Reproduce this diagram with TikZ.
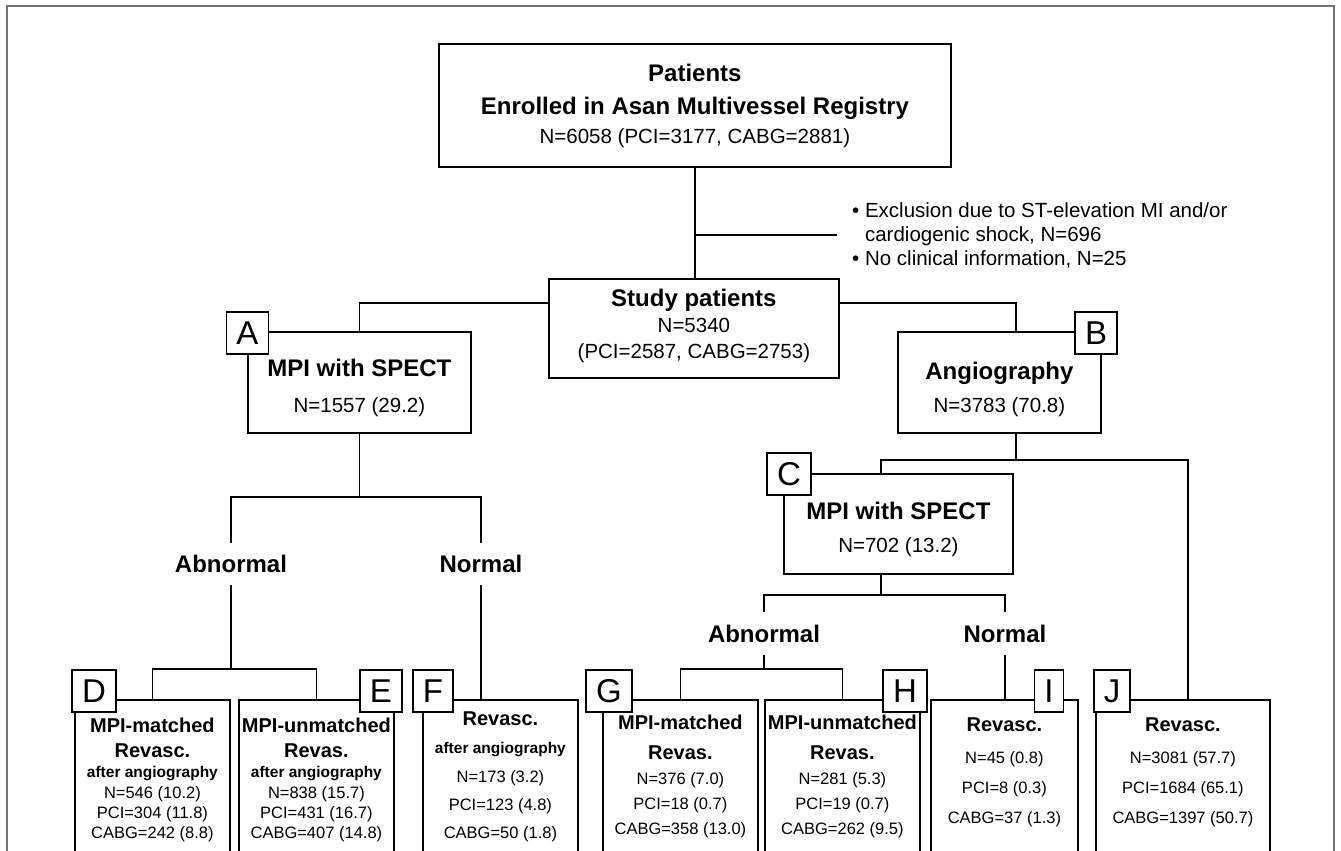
\documentclass[tikz,border=0pt]{standalone}
\usepackage{fontspec}
\setmainfont{Liberation Sans}
\usetikzlibrary{positioning}
\newcommand{\fTitle}{\bfseries\fontsize{24}{29}\selectfont}
\newcommand{\fSub}{\bfseries\fontsize{20}{24}\selectfont}
\newcommand{\fSmall}{\bfseries\fontsize{15.5}{18}\selectfont}

\begin{document}
\begin{tikzpicture}[x=1pt, y=-1pt,
    every node/.style={inner sep=0pt},
    frm/.style={draw, line width=1.8pt},
    box/.style={frm, anchor=north west},
    tag/.style={frm, fill=white, font=\fontsize{33}{33}\selectfont, inner xsep=10pt, minimum height=42pt},
    link/.style={line width=1.8pt},
    txt/.style={align=center},
    fork/.style={font=\fTitle, minimum height=42pt}]
    \useasboundingbox (0,0) rectangle (1341,851);
    \clip (0,0) rectangle (1341,851);

    % Rahmen
    \draw[line width=2pt, black!55] (7,870) -- (7,6.5) -- (1334,6.5) -- (1334,870);

    % --- obere Kaesten ---
    \node[box, minimum width=512pt, minimum height=123pt] (top) at (438,43) {};
    \node[txt, below=21.4pt of top.north, font=\fontsize{20.5}{29}\selectfont] (toptxt)
        {{\fTitle Patients}\\[4pt] {\fTitle Enrolled in Asan Multivessel Registry}\\ N=6058 (PCI=3177, CABG=2881)};

    \node[box, minimum width=290pt, minimum height=99pt] (study) at (548,278) {};
    \node[txt, below=11.4pt of study.north, font=\fontsize{20.5}{26}\selectfont] (studytxt)
        {{\fTitle Study patients}\\ N=5340\\ (PCI=2587, CABG=2753)};

    \node[anchor=west, inner xsep=15pt, align=left, font=\fontsize{20.5}{24}\selectfont] (excl) at (837,235)
        {\textbullet\ Exclusion due to ST-elevation MI and/or\\ \hphantom{\textbullet\ }cardiogenic shock, N=696\\ \textbullet\ No clinical information, N=25};

    \node[box, minimum width=223pt, minimum height=101pt] (mpiA) at (247,331) {};
    \node[txt, below=28.4pt of mpiA.north, font=\fontsize{20.5}{35.7}\selectfont] (mpiAtxt)
        {{\fTitle MPI with SPECT}\\ N=1557 (29.2)};

    \node[box, minimum width=203pt, minimum height=101pt] (angio) at (897,331) {};
    \node[txt, below=31.4pt of angio.north, font=\fontsize{20.5}{32.7}\selectfont] (angiotxt)
        {{\fTitle Angiography}\\ N=3783 (70.8)};

    \node[box, minimum width=229pt, minimum height=100pt] (mpiC) at (783,473) {};
    \node[txt, below=29.4pt of mpiC.north, font=\fontsize{20.5}{32.7}\selectfont] (mpiCtxt)
        {{\fTitle MPI with SPECT}\\ N=702 (13.2)};

    % Verzweigungen
    \node[fork] (abnA) at (231,564) {Abnormal};
    \node[fork] (norA) at (481,564) {Normal};
    \node[fork] (abnC) at (764,633.5) {Abnormal};
    \node[fork] (norC) at (1005,633.5) {Normal};

    % --- untere Kaesten (unten abgeschnitten) ---
    \foreach \n/\x/\w in {D/74/155, E/238/155, F/422/155, G/602/155, H/764/155, I/930/147, J/1095/174}
        \node[box, minimum width=\w pt, minimum height=170pt] (box\n) at (\x,699) {};

    \node[txt, below=19pt of boxD.north, font=\fontsize{16.5}{20}\selectfont] (txtD)
        {{\fSub MPI-matched}\\[5pt] {\fSub Revasc.}\\[-0.7pt] {\fSmall after angiography}\\[1.4pt] N=546 (10.2)\\ PCI=304 (11.8)\\ CABG=242 (8.8)};
    \node[txt, below=19pt of boxE.north, font=\fontsize{16.5}{20}\selectfont] (txtE)
        {{\fSub MPI-unmatched}\\[5pt] {\fSub Revas.}\\[-0.7pt] {\fSmall after angiography}\\[1.4pt] N=838 (15.7)\\ PCI=431 (16.7)\\ CABG=407 (14.8)};
    \node[txt, below=13pt of boxF.north, font=\fontsize{16.5}{28}\selectfont] (txtF)
        {{\fSub Revasc.}\\[-0.7pt] {\fSmall after angiography}\\[1.4pt] N=173 (3.2)\\ PCI=123 (4.8)\\ CABG=50 (1.8)};
    \node[txt, below=16pt of boxG.north, font=\fontsize{16.5}{25}\selectfont] (txtG)
        {{\fSub MPI-matched}\\[5pt] {\fSub Revas.}\\ N=376 (7.0)\\ PCI=18 (0.7)\\ CABG=358 (13.0)};
    \node[txt, below=16pt of boxH.north, font=\fontsize{16.5}{25}\selectfont] (txtH)
        {{\fSub MPI-unmatched}\\[5pt] {\fSub Revas.}\\ N=281 (5.3)\\ PCI=19 (0.7)\\ CABG=262 (9.5)};
    \node[txt, below=19pt of boxI.north, font=\fontsize{16.5}{30}\selectfont] (txtI)
        {{\fSub Revasc.}\\[1.7pt] N=45 (0.8)\\ PCI=8 (0.3)\\ CABG=37 (1.3)};
    \node[txt, below=19pt of boxJ.north, font=\fontsize{16.5}{30}\selectfont] (txtJ)
        {{\fSub Revasc.}\\[1.7pt] N=3081 (57.7)\\ PCI=1684 (65.1)\\ CABG=1397 (50.7)};

    % Verbindungen
    \draw[link] (top.south) -- (top.south |- study.north);
    \draw[link] (top.south |- excl.west) -- (excl.west);
    \draw[link] ([yshift=-25pt]study.north west) -| (mpiA.north);
    \draw[link] ([yshift=-25pt]study.north east) -| ([xshift=16.5pt]angio.north);

    \draw[link] (mpiA.south) -- ++(0,63) coordinate (Asplit);
    \draw[link] (abnA.north) |- (Asplit) -| (norA.north);
    \draw[link] (abnA.south) -- ++(0,84) coordinate (abnAsplit);
    \draw[link] (boxD.north) |- (abnAsplit) -| (boxE.north);
    \draw[link] (norA.south) -- (norA.south |- boxF.north);

    \draw[link] ([xshift=16.5pt]angio.south) -- ++(0,26) coordinate (Bsplit);
    \draw[link] ([xshift=-17.5pt]mpiC.north) |- (Bsplit) -| ([xshift=5pt]boxJ.north);

    \draw[link] ([xshift=-17.5pt]mpiC.south) -- ++(0,20) coordinate (Csplit);
    \draw[link] (abnC.north) |- (Csplit) -| (norC.north);
    \draw[link] (abnC.south) -- ++(0,14.5) coordinate (abnCsplit);
    \draw[link] (boxG.north) |- (abnCsplit) -| (boxH.north);
    \draw[link] (norC.south) -- (norC.south |- boxI.north);

    % Buchstaben
    \foreach \n/\x/\y in {A/247.5/333, B/1096/333, C/789/474, D/94/691, E/381/691,
                          F/433/691, G/609/691, H/905/691, I/1049/691, J/1112/691}
        \node[tag] (tag\n) at (\x,\y) {\n};
\end{tikzpicture}
\end{document}
